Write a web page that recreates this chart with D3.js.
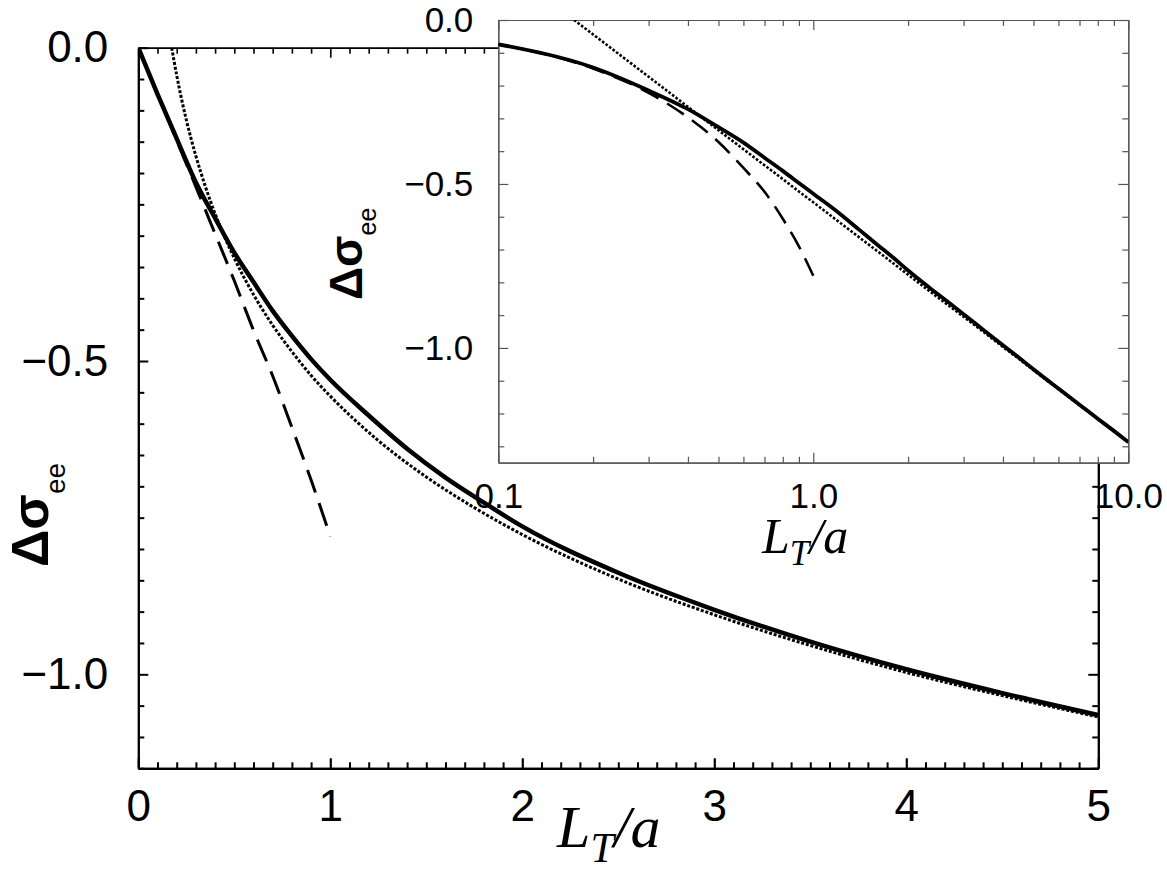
<!DOCTYPE html>
<html>
<head>
<meta charset="utf-8">
<script src="https://cdn.jsdelivr.net/npm/d3@7"></script>
<style>
  body { margin: 0; background: #fff; }
</style>
</head>
<body>
<div id="chart"></div>
<script>
// ---- data ----
// full calculation (thick solid)
var solidL = [0, 0.1, 0.2, 0.3, 0.4, 0.5, 0.6, 0.7, 0.8, 0.9, 1.0, 1.2, 1.4, 1.6, 1.8, 2.0, 2.5, 3.0, 3.5, 4.0, 4.5, 5.0, 6, 7, 8, 9, 10];
var solidV = [0, -0.074, -0.145, -0.215, -0.272, -0.327, -0.374, -0.42, -0.46, -0.497, -0.53, -0.587, -0.64, -0.686, -0.726, -0.764, -0.838, -0.897, -0.948, -0.992, -1.030, -1.065, -1.124, -1.173, -1.216, -1.253, -1.287];
// large L asymptote (dotted)
var dotL = [0.174, 0.2, 0.25, 0.3, 0.35, 0.4, 0.5, 0.6, 0.7, 0.8, 0.9, 1.0, 1.25, 1.5, 1.75, 2.0, 2.5, 3.0, 3.5, 4.0, 4.5, 5.0, 6, 7, 8, 10];
var dotV = [0, -0.044, -0.115, -0.173, -0.222, -0.265, -0.336, -0.394, -0.443, -0.485, -0.523, -0.556, -0.627, -0.685, -0.734, -0.777, -0.848, -0.905, -0.954, -0.997, -1.034, -1.068, -1.126, -1.175, -1.217, -1.288];
// small L expansion (dashed)
var dashL = [0, 0.1, 0.2, 0.3, 0.4, 0.5, 0.6, 0.7, 0.8, 0.9, 1.0];
var dashV = [0, -0.074, -0.148, -0.222, -0.297, -0.372, -0.451, -0.524, -0.606, -0.690, -0.780];

// tick labels
var mainXTicks = [0, 1, 2, 3, 4, 5];
var mainYTicks = [0, -0.5, -1.0];
var insetXTicks = [0.1, 1, 10];
var insetXMinor = [0.2, 0.3, 0.4, 0.5, 0.6, 0.7, 0.8, 0.9, 2, 3, 4, 5, 6, 7, 8, 9];
var insetYTicks = [0, -0.5, -1.0];

var w = 1167, h = 892;

var svg = d3.select("#chart").append("svg")
    .attr("width", w)
    .attr("height", h)
    .style("background", "#fff");

function zip(xs, ys) {
  return xs.map(function(x, i){ return [x, ys[i]]; });
}

//////////////// main plot ////////////////
var x = d3.scaleLinear().domain([0, 5]).range([138.3, 1098.3]);
var y = d3.scaleLinear().domain([0, -1.15]).range([47.7, 768.3]);

var xMinor = d3.range(0, 51).map(function(i){ return i / 10; }).filter(function(v){ return Math.abs(v - Math.round(v)) > 1e-6; });
var yMinor = d3.range(0, 24).map(function(i){ return -i * 0.05; }).filter(function(v){ return Math.abs(v * 2 - Math.round(v * 2)) > 1e-6; });

function styleAxis(g, col, lw, fs) {
  g.attr("font-family", "'Liberation Sans', Arial, sans-serif").attr("font-size", fs);
  g.select(".domain").attr("stroke", col).attr("stroke-width", lw);
  g.selectAll(".tick line").attr("stroke", col).attr("stroke-width", lw);
  g.selectAll(".tick text").attr("fill", "#000");
}

var main = svg.append("g");

main.append("clipPath").attr("id", "mainclip")
  .append("rect").attr("x", 138.3).attr("y", 47.7).attr("width", 960).attr("height", 720.6);

// axes, major
main.append("g").attr("transform", "translate(0," + y(-1.15) + ")")
  .call(d3.axisBottom(x).tickValues(mainXTicks).tickSize(-10).tickSizeOuter(0).tickPadding(21).tickFormat(d3.format("d")))
  .call(styleAxis, "#000", 2.2, 44);
main.append("g").attr("transform", "translate(0," + y(-1.15) + ")")
  .call(d3.axisBottom(x).tickValues(xMinor).tickSize(-6).tickSizeOuter(0).tickFormat(""))
  .call(styleAxis, "#000", 2, 44);
main.append("g").attr("transform", "translate(0," + y(0) + ")")
  .call(d3.axisTop(x).tickValues(mainXTicks).tickSize(-10).tickSizeOuter(0).tickFormat(""))
  .call(styleAxis, "#000", 1.6, 44);
main.append("g").attr("transform", "translate(0," + y(0) + ")")
  .call(d3.axisTop(x).tickValues(xMinor).tickSize(-6).tickSizeOuter(0).tickFormat(""))
  .call(styleAxis, "#000", 1.6, 44);
main.append("g").attr("transform", "translate(" + x(0) + ",0)")
  .call(d3.axisLeft(y).tickValues(mainYTicks).tickSize(-10).tickSizeOuter(0).tickPadding(30).tickFormat(d3.format(".1f")))
  .call(styleAxis, "#000", 2, 44);
main.append("g").attr("transform", "translate(" + x(0) + ",0)")
  .call(d3.axisLeft(y).tickValues(yMinor).tickSize(-6).tickSizeOuter(0).tickFormat(""))
  .call(styleAxis, "#000", 2, 44);
main.append("g").attr("transform", "translate(" + x(5) + ",0)")
  .call(d3.axisRight(y).tickValues(mainYTicks).tickSize(-10).tickSizeOuter(0).tickFormat(""))
  .call(styleAxis, "#000", 2, 44);
main.append("g").attr("transform", "translate(" + x(5) + ",0)")
  .call(d3.axisRight(y).tickValues(yMinor).tickSize(-6).tickSizeOuter(0).tickFormat(""))
  .call(styleAxis, "#000", 2, 44);

var line = d3.line()
  .x(function(d){ return x(d[0]); })
  .y(function(d){ return y(d[1]); })
  .curve(d3.curveMonotoneX);

var mainCurves = main.append("g").attr("clip-path", "url(#mainclip)");
mainCurves.append("path").datum(zip(dashL, dashV))
  .attr("d", line).attr("fill", "none").attr("stroke", "#000")
  .attr("stroke-width", 3).attr("stroke-dasharray", "24,11");
mainCurves.append("path").datum(zip(dotL, dotV).filter(function(d){ return d[0] <= 5; }))
  .attr("d", line).attr("fill", "none").attr("stroke", "#000")
  .attr("stroke-width", 3).attr("stroke-dasharray", "3,1.8");
mainCurves.append("path").datum(zip(solidL, solidV).filter(function(d){ return d[0] <= 5; }))
  .attr("d", line).attr("fill", "none").attr("stroke", "#000")
  .attr("stroke-width", 4.5);

// axis titles
var xt = main.append("text")
  .attr("x", 557).attr("y", 847)
  .attr("font-family", "'Liberation Serif', 'Times New Roman', serif")
  .attr("font-style", "italic")
  .attr("font-size", 60);
xt.append("tspan").text("L");
xt.append("tspan").attr("font-size", 42).attr("dy", 15).text("T");
xt.append("tspan").attr("dy", -15).text("/a");

var yt = main.append("text")
  .attr("transform", "translate(48,567) rotate(-90)")
  .attr("font-family", "'Liberation Sans', Arial, sans-serif")
  .attr("font-size", 52)
  .attr("font-weight", "bold");
yt.append("tspan").text("Δσ");
yt.append("tspan").attr("font-size", 28).attr("font-weight", "normal").attr("dy", 17).text("ee");

//////////////// inset ////////////////
var ix = d3.scaleLog().domain([0.1, 10]).range([498.3, 1128.3]);
var iy = d3.scaleLinear().domain([0, -1.35]).range([20, 462.7]);

var iyMinor = d3.range(0, 14).map(function(i){ return -i / 10; }).filter(function(v){ return Math.abs(v * 2 - Math.round(v * 2)) > 1e-6; });

var inset = svg.append("g");
inset.append("rect")
  .attr("x", ix(0.1)).attr("y", iy(0))
  .attr("width", ix(10) - ix(0.1)).attr("height", iy(-1.35) - iy(0))
  .attr("fill", "#fff");

inset.append("clipPath").attr("id", "insetclip")
  .append("rect").attr("x", ix(0.1)).attr("y", iy(0))
  .attr("width", ix(10) - ix(0.1)).attr("height", iy(-1.35) - iy(0));

var icol = "#555";
inset.append("g").attr("transform", "translate(0," + iy(-1.35) + ")")
  .call(d3.axisBottom(ix).tickValues(insetXTicks).tickSize(-10).tickSizeOuter(0).tickPadding(20).tickFormat(d3.format(".1f")))
  .call(styleAxis, icol, 1.2, 35);
inset.append("g").attr("transform", "translate(0," + iy(-1.35) + ")")
  .call(d3.axisBottom(ix).tickValues(insetXMinor).tickSize(-6).tickSizeOuter(0).tickFormat(""))
  .call(styleAxis, icol, 1.2, 35);
inset.append("g").attr("transform", "translate(0," + iy(0) + ")")
  .call(d3.axisTop(ix).tickValues(insetXTicks).tickSize(-10).tickSizeOuter(0).tickFormat(""))
  .call(styleAxis, icol, 1.2, 35);
inset.append("g").attr("transform", "translate(0," + iy(0) + ")")
  .call(d3.axisTop(ix).tickValues(insetXMinor).tickSize(-6).tickSizeOuter(0).tickFormat(""))
  .call(styleAxis, icol, 1.2, 35);
inset.append("g").attr("transform", "translate(" + ix(0.1) + ",0)")
  .call(d3.axisLeft(iy).tickValues(insetYTicks).tickSize(-10).tickSizeOuter(0).tickPadding(25).tickFormat(d3.format(".1f")))
  .call(styleAxis, icol, 1.2, 35);
inset.append("g").attr("transform", "translate(" + ix(0.1) + ",0)")
  .call(d3.axisLeft(iy).tickValues(iyMinor).tickSize(-6).tickSizeOuter(0).tickFormat(""))
  .call(styleAxis, icol, 1.2, 35);
inset.append("g").attr("transform", "translate(" + ix(10) + ",0)")
  .call(d3.axisRight(iy).tickValues(insetYTicks).tickSize(-10).tickSizeOuter(0).tickFormat(""))
  .call(styleAxis, icol, 1.2, 35);
inset.append("g").attr("transform", "translate(" + ix(10) + ",0)")
  .call(d3.axisRight(iy).tickValues(iyMinor).tickSize(-6).tickSizeOuter(0).tickFormat(""))
  .call(styleAxis, icol, 1.2, 35);

var iline = d3.line()
  .x(function(d){ return ix(d[0]); })
  .y(function(d){ return iy(d[1]); })
  .curve(d3.curveMonotoneX);

var insetCurves = inset.append("g").attr("clip-path", "url(#insetclip)");
insetCurves.append("path").datum(zip(dashL, dashV).filter(function(d){ return d[0] >= 0.1; }))
  .attr("d", iline).attr("fill", "none").attr("stroke", "#000")
  .attr("stroke-width", 2.6).attr("stroke-dasharray", "20,10");
insetCurves.append("path").datum(zip(dotL, dotV))
  .attr("d", iline).attr("fill", "none").attr("stroke", "#000")
  .attr("stroke-width", 2.6).attr("stroke-dasharray", "2.6,1.8");
insetCurves.append("path").datum(zip(solidL, solidV).filter(function(d){ return d[0] >= 0.1; }))
  .attr("d", iline).attr("fill", "none").attr("stroke", "#000")
  .attr("stroke-width", 3.8);

var ixt = inset.append("text")
  .attr("x", 762).attr("y", 553)
  .attr("font-family", "'Liberation Serif', 'Times New Roman', serif")
  .attr("font-style", "italic")
  .attr("font-size", 50);
ixt.append("tspan").text("L");
ixt.append("tspan").attr("font-size", 35).attr("dy", 12).text("T");
ixt.append("tspan").attr("dy", -12).text("/a");

var iyt = inset.append("text")
  .attr("transform", "translate(362,300) rotate(-90)")
  .attr("font-family", "'Liberation Sans', Arial, sans-serif")
  .attr("font-size", 46)
  .attr("font-weight", "bold");
iyt.append("tspan").text("Δσ");
iyt.append("tspan").attr("font-size", 25).attr("font-weight", "normal").attr("dy", 14).text("ee");
</script>
</body>
</html>
